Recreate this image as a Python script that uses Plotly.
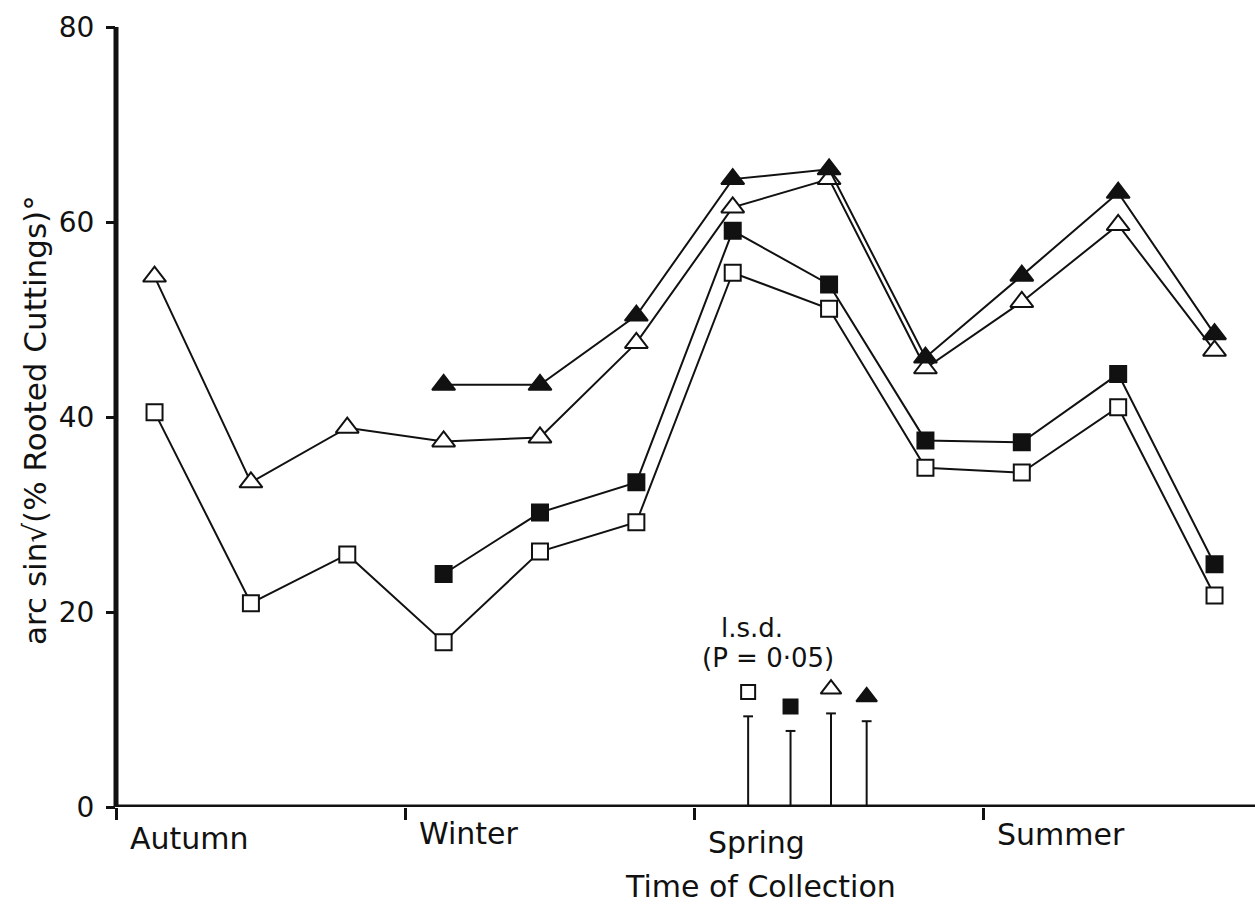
import plotly.graph_objects as go

# ---------------- data ----------------
months = list(range(12))  # monthly collections, autumn -> summer
open_sq = [40.5, 20.9, 25.9, 16.9, 26.2, 29.2, 54.8, 51.1, 34.8, 34.3, 41.0, 21.7]
filled_sq = [None, None, None, 23.9, 30.2, 33.3, 59.1, 53.6, 37.6, 37.4, 44.4, 24.9]
open_tri = [54.4, 33.3, 38.9, 37.5, 37.9, 47.6, 61.5, 64.4, 45.0, 51.8, 59.7, 46.8]
filled_tri = [None, None, None, 43.3, 43.3, 50.4, 64.4, 65.4, 46.1, 54.5, 63.0, 48.5]

lsd_values = [9.3, 7.8, 9.6, 8.8]          # l.s.d. (P = 0.05) for the four series
season_labels = ["Autumn", "Winter", "Spring", "Summer"]
season_ticks = [-0.4, 2.6, 5.6, 8.6]
y_ticks = [0, 20, 40, 60, 80]

# ---------------- layout constants ----------------
W, H = 1255, 908
L, R, T, B = 116, 0, 27, 101
X_RANGE = [-0.4, 11.42]
Y_RANGE = [0, 80]
FONT = "DejaVu Sans"
BLACK = "#111111"

def paper_x(px):
    return (px - L) / (W - L - R)

def paper_y(py):
    return (H - B - py) / (H - B - T)

fig = go.Figure()

series = [
    (open_tri, "triangle-up", "white", 20),
    (filled_tri, "triangle-up", BLACK, 20),
    (open_sq, "square", "white", 16),
    (filled_sq, "square", BLACK, 16),
]
for vals, sym, fill, size in series:
    fig.add_trace(go.Scatter(
        x=months, y=vals, mode="lines+markers",
        line=dict(color=BLACK, width=2),
        marker=dict(symbol=sym, size=size, color=fill,
                    line=dict(color=BLACK, width=2)),
        connectgaps=False, showlegend=False, hoverinfo="skip",
    ))

# l.s.d. bars
lsd_x = [6.16, 6.60, 7.02, 7.39]
lsd_sym = [("square", "white"), ("square", BLACK), ("triangle-up", "white"), ("triangle-up", BLACK)]
for xv, v, (sym, fill) in zip(lsd_x, lsd_values, lsd_sym):
    fig.add_trace(go.Scatter(
        x=[xv, xv], y=[0, v], mode="lines",
        line=dict(color=BLACK, width=2), showlegend=False, hoverinfo="skip"))
    fig.add_trace(go.Scatter(
        x=[xv], y=[v], mode="markers",
        marker=dict(symbol="line-ew", size=7, line=dict(color=BLACK, width=2)),
        showlegend=False, hoverinfo="skip"))
    fig.add_trace(go.Scatter(
        x=[xv], y=[v + 2.5], mode="markers",
        marker=dict(symbol=sym, size=14 if sym == "square" else 18, color=fill,
                    line=dict(color=BLACK, width=2)),
        showlegend=False, hoverinfo="skip"))

# axis lines as shapes
fig.add_shape(type="line", xref="paper", yref="y", x0=0, x1=1, y0=0, y1=0,
              line=dict(color=BLACK, width=5))
fig.add_shape(type="line", xref="paper", yref="y", x0=0, x1=0, y0=0, y1=80,
              line=dict(color=BLACK, width=5))

annotations = []
season_y = [838, 833, 842, 834]
for lab, tv, yy in zip(season_labels, season_ticks, season_y):
    annotations.append(dict(
        text=lab, x=tv + 0.12, xref="x", xanchor="left",
        y=paper_y(yy), yref="paper", yanchor="middle",
        showarrow=False, font=dict(family=FONT, size=30, color=BLACK)))

annotations.append(dict(
    text="Time of Collection", x=paper_x(760), xref="paper", xanchor="center",
    y=paper_y(886), yref="paper", yanchor="middle", showarrow=False,
    font=dict(family=FONT, size=30, color=BLACK)))

annotations.append(dict(
    text="arc sin√(% Rooted Cuttings)°", x=paper_x(35), xref="paper", xanchor="center",
    y=paper_y(420), yref="paper", yanchor="middle", textangle=-90, showarrow=False,
    font=dict(family=FONT, size=31, color=BLACK)))

annotations.append(dict(
    text="l.s.d.", x=paper_x(752), xref="paper", xanchor="center",
    y=paper_y(628), yref="paper", yanchor="middle", showarrow=False,
    font=dict(family=FONT, size=26, color=BLACK)))
annotations.append(dict(
    text="(P = 0·05)", x=paper_x(768), xref="paper", xanchor="center",
    y=paper_y(658), yref="paper", yanchor="middle", showarrow=False,
    font=dict(family=FONT, size=26, color=BLACK)))

fig.update_layout(
    width=W, height=H,
    margin=dict(l=L, r=R, t=T, b=B, pad=0),
    paper_bgcolor="white", plot_bgcolor="white",
    annotations=annotations,
    xaxis=dict(range=X_RANGE, showgrid=False, zeroline=False, showline=False,
               tickmode="array", tickvals=season_ticks, showticklabels=False,
               ticks="outside", ticklen=12, tickwidth=2.5, tickcolor=BLACK),
    yaxis=dict(range=Y_RANGE, showgrid=False, zeroline=False, showline=False,
               tickmode="array", tickvals=y_ticks, ticktext=[str(t) for t in y_ticks],
               ticks="outside", ticklen=9, tickwidth=2.5, tickcolor=BLACK,
               ticklabelstandoff=6,
               tickfont=dict(family=FONT, size=28, color=BLACK)),
)

fig.write_html("out.html")
